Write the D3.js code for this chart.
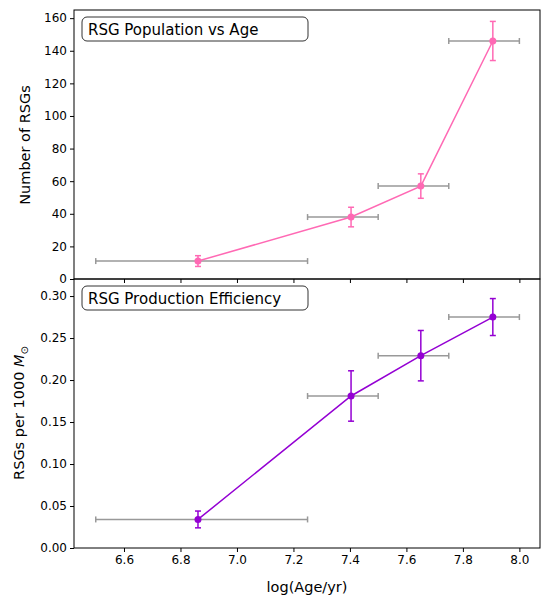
<!DOCTYPE html><html><head><meta charset="utf-8"><script src="https://cdn.jsdelivr.net/npm/d3@7"></script>
<style>body{margin:0;background:#fff}text{font-family:"DejaVu Sans",sans-serif}</style></head><body>
<script>
const ages=[6.862,7.404,7.651,7.906];
const ageLo=[6.5,7.25,7.5,7.75], ageHi=[7.25,7.5,7.75,8.0];
const counts=[11,38,57,146], countErr=[3.3,6,7.5,12];
const eff=[0.034,0.181,0.229,0.275], effErr=[0.01,0.03,0.03,0.022];
const xTicks=[6.6,6.8,7.0,7.2,7.4,7.6,7.8,8.0];
const W=549,H=607,L=74,R=540;
const svg=d3.select("body").append("svg").attr("width",W).attr("height",H);
const x=d3.scaleLinear().domain([6.423,8.073]).range([L,R]);
function panel(top,bot,dom,vals,errs,color,ticks,fmt,title,tw,showX){
 const y=d3.scaleLinear().domain(dom).range([bot,top]);
 const g=svg.append("g");
 g.append("g").attr("transform",`translate(${L},0)`).call(d3.axisLeft(y).tickValues(ticks).tickFormat(fmt).tickSizeOuter(0).tickSize(4)).call(a=>a.selectAll("text").attr("font-size",12).attr("fill","#000")).call(a=>a.select(".domain").remove());
 g.append("g").attr("transform",`translate(0,${bot})`).call(d3.axisBottom(x).tickValues(xTicks).tickFormat(showX?d3.format(".1f"):"").tickSizeOuter(0).tickSize(4)).call(a=>a.selectAll("text").attr("font-size",12).attr("fill","#000")).call(a=>a.select(".domain").remove());
 g.append("rect").attr("x",L).attr("y",top).attr("width",R-L).attr("height",bot-top).attr("fill","none").attr("stroke","#000");
 ages.forEach((a,i)=>{const yy=y(vals[i]);
  g.append("line").attr("x1",x(ageLo[i])).attr("x2",x(ageHi[i])).attr("y1",yy).attr("y2",yy).attr("stroke","#999").attr("stroke-width",1.5);
  [ageLo[i],ageHi[i]].forEach(v=>g.append("line").attr("x1",x(v)).attr("x2",x(v)).attr("y1",yy-3).attr("y2",yy+3).attr("stroke","#999").attr("stroke-width",1.5));
 });
 g.append("path").attr("d",d3.line().x((d,i)=>x(ages[i])).y(d=>y(d))(vals)).attr("fill","none").attr("stroke",color).attr("stroke-width",1.5);
 ages.forEach((a,i)=>{const xx=x(a),y1=y(vals[i]-errs[i]),y2=y(vals[i]+errs[i]);
  g.append("line").attr("x1",xx).attr("x2",xx).attr("y1",y1).attr("y2",y2).attr("stroke",color).attr("stroke-width",1.5);
  [y1,y2].forEach(v=>g.append("line").attr("x1",xx-3).attr("x2",xx+3).attr("y1",v).attr("y2",v).attr("stroke",color).attr("stroke-width",1.5));
  g.append("circle").attr("cx",xx).attr("cy",y(vals[i])).attr("r",3.5).attr("fill",color);
 });
 g.append("rect").attr("x",82).attr("y",top+7).attr("width",tw).attr("height",24).attr("rx",5).attr("fill","#fff").attr("stroke","#333");
 g.append("text").attr("x",88).attr("y",top+25).attr("font-size",15).text(title);
 return g;
}
panel(10,279,[0,165],counts,countErr,"#ff69b4",[0,20,40,60,80,100,120,140,160],d3.format("d"),"RSG Population vs Age",226,false);
panel(279,548,[0,0.3203],eff,effErr,"#9400d3",[0,0.05,0.1,0.15,0.2,0.25,0.3],d3.format(".2f"),"RSG Production Efficiency",226,true);
svg.append("text").attr("transform","translate(30,145) rotate(-90)").attr("text-anchor","middle").attr("font-size",14.5).text("Number of RSGs");
const t=svg.append("text").attr("transform","translate(24,413) rotate(-90)").attr("text-anchor","middle").attr("font-size",14.5);
t.append("tspan").text("RSGs per 1000 ");t.append("tspan").attr("font-style","italic").text("M");t.append("tspan").attr("font-size",10).attr("dy",4).text("⊙");
svg.append("text").attr("x",307).attr("y",592).attr("text-anchor","middle").attr("font-size",14.5).text("log(Age/yr)");
</script></body></html>
